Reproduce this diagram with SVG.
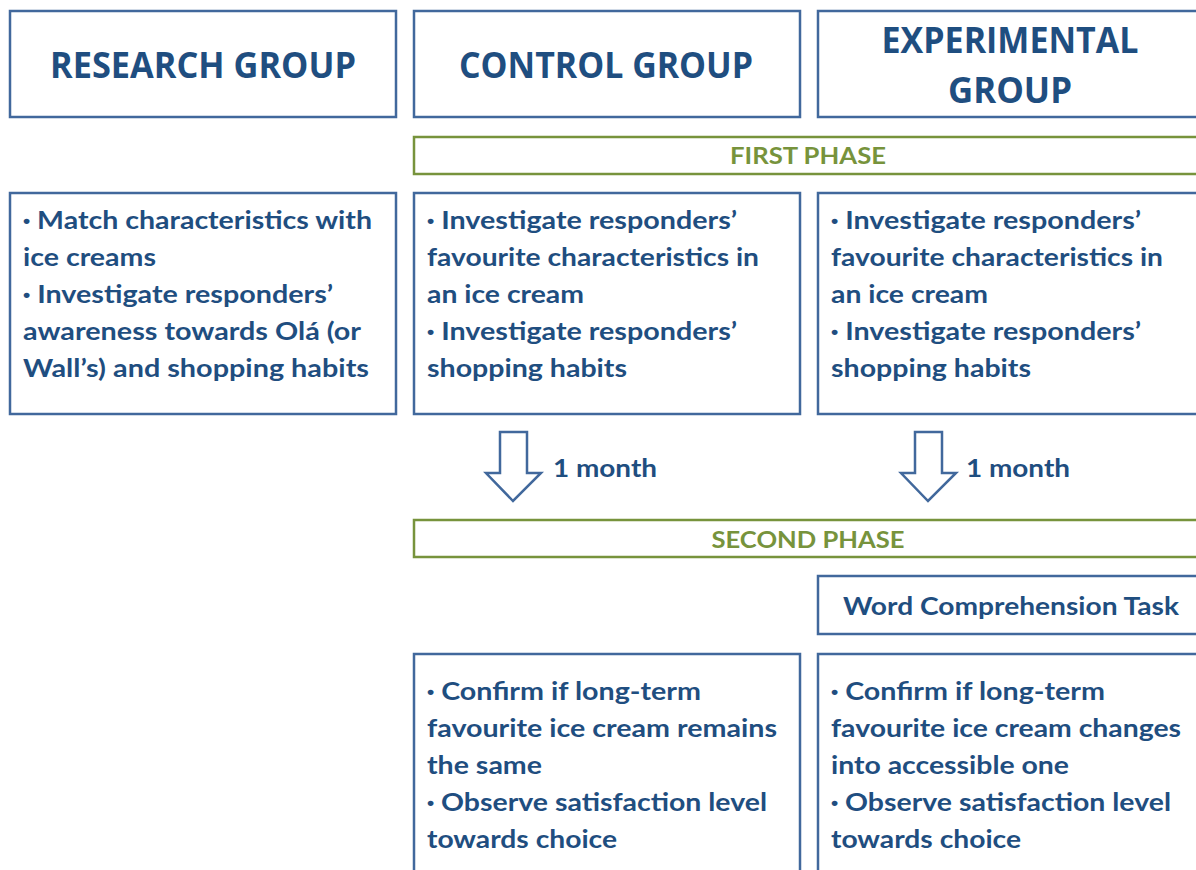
<svg xmlns="http://www.w3.org/2000/svg" width="1196" height="870" viewBox="0 0 1196 870">
  <style>
    .box { fill: #ffffff; stroke: #41689c; stroke-width: 2.5; }
    .phase { fill: #ffffff; stroke: #77933c; stroke-width: 2.5; }
    .arrow { fill: #ffffff; stroke: #41689c; stroke-width: 2.5; stroke-linejoin: miter; }
    .head { font-family: "Open Sans", "Liberation Sans", sans-serif; font-weight: 700; font-size: 36px; fill: #1f4e80; text-anchor: middle; }
    .body { font-family: Lato, "Open Sans", "Liberation Sans", sans-serif; font-weight: 700; font-size: 25px; fill: #1f4e80; }
    .bul { font-family: "Liberation Sans", sans-serif; font-size: 18px; baseline-shift: 2px; }
    .ph { font-family: Lato, "Liberation Sans", sans-serif; font-weight: 700; font-size: 23px; fill: #77933c; text-anchor: middle; }
  </style>

  <!-- column headers -->
  <g id="research-header">
    <rect class="box" x="10" y="11" width="386" height="106"/>
    <text class="head" x="203" y="78" textLength="306" lengthAdjust="spacingAndGlyphs">RESEARCH GROUP</text>
  </g>
  <g id="control-header">
    <rect class="box" x="414" y="11" width="386" height="106"/>
    <text class="head" x="606" y="78" textLength="294" lengthAdjust="spacingAndGlyphs">CONTROL GROUP</text>
  </g>
  <g id="experimental-header">
    <rect class="box" x="818" y="11" width="390" height="106"/>
    <text class="head" x="1010" y="53" textLength="257" lengthAdjust="spacingAndGlyphs">EXPERIMENTAL</text>
    <text class="head" x="1010" y="103" textLength="124" lengthAdjust="spacingAndGlyphs">GROUP</text>
  </g>

  <!-- phase bars -->
  <g id="first-phase">
    <rect class="phase" x="414" y="137" width="794" height="37"/>
    <text class="ph" x="808" y="164" textLength="156" lengthAdjust="spacingAndGlyphs">FIRST PHASE</text>
  </g>

  <!-- first phase tasks -->
  <g id="research-tasks">
    <rect class="box" x="10" y="193" width="386" height="221"/>
    <text class="body" x="23" y="229" textLength="349" lengthAdjust="spacingAndGlyphs"><tspan class="bul">•</tspan> Match characteristics with</text>
    <text class="body" x="23" y="266" textLength="133" lengthAdjust="spacingAndGlyphs">ice creams</text>
    <text class="body" x="23" y="303" textLength="310" lengthAdjust="spacingAndGlyphs"><tspan class="bul">•</tspan> Investigate responders’</text>
    <text class="body" x="23" y="340" textLength="338" lengthAdjust="spacingAndGlyphs">awareness towards Olá (or</text>
    <text class="body" x="23" y="377" textLength="346" lengthAdjust="spacingAndGlyphs">Wall’s) and shopping habits</text>
  </g>
  <g id="control-phase1">
    <rect class="box" x="414" y="193" width="386" height="221"/>
    <text class="body" x="427" y="229" textLength="310" lengthAdjust="spacingAndGlyphs"><tspan class="bul">•</tspan> Investigate responders’</text>
    <text class="body" x="427" y="266" textLength="332" lengthAdjust="spacingAndGlyphs">favourite characteristics in</text>
    <text class="body" x="427" y="303" textLength="157" lengthAdjust="spacingAndGlyphs">an ice cream</text>
    <text class="body" x="427" y="340" textLength="310" lengthAdjust="spacingAndGlyphs"><tspan class="bul">•</tspan> Investigate responders’</text>
    <text class="body" x="427" y="377" textLength="200" lengthAdjust="spacingAndGlyphs">shopping habits</text>
  </g>
  <g id="experimental-phase1">
    <rect class="box" x="818" y="193" width="390" height="221"/>
    <text class="body" x="831" y="229" textLength="310" lengthAdjust="spacingAndGlyphs"><tspan class="bul">•</tspan> Investigate responders’</text>
    <text class="body" x="831" y="266" textLength="332" lengthAdjust="spacingAndGlyphs">favourite characteristics in</text>
    <text class="body" x="831" y="303" textLength="157" lengthAdjust="spacingAndGlyphs">an ice cream</text>
    <text class="body" x="831" y="340" textLength="310" lengthAdjust="spacingAndGlyphs"><tspan class="bul">•</tspan> Investigate responders’</text>
    <text class="body" x="831" y="377" textLength="200" lengthAdjust="spacingAndGlyphs">shopping habits</text>
  </g>

  <!-- time gap arrows -->
  <g id="connectors">
    <polygon class="arrow" points="500,432 527,432 527,473 541,473 513,501 486,473 500,473"/>
    <text class="body" x="553" y="477" textLength="104" lengthAdjust="spacingAndGlyphs">1 month</text>
    <polygon class="arrow" points="915,432 942,432 942,473 956,473 928,501 901,473 915,473"/>
    <text class="body" x="966" y="477" textLength="104" lengthAdjust="spacingAndGlyphs">1 month</text>
  </g>

  <g id="second-phase">
    <rect class="phase" x="414" y="520" width="794" height="37"/>
    <text class="ph" x="808" y="548" textLength="193" lengthAdjust="spacingAndGlyphs">SECOND PHASE</text>
  </g>

  <g id="word-task">
    <rect class="box" x="818" y="576" width="390" height="58"/>
    <text class="body" x="843" y="615" textLength="336" lengthAdjust="spacingAndGlyphs">Word Comprehension Task</text>
  </g>

  <!-- second phase tasks -->
  <g id="control-phase2">
    <rect class="box" x="414" y="654" width="386" height="240"/>
    <text class="body" x="427" y="700" textLength="274" lengthAdjust="spacingAndGlyphs"><tspan class="bul">•</tspan> Confirm if long-term</text>
    <text class="body" x="427" y="737" textLength="350" lengthAdjust="spacingAndGlyphs">favourite ice cream remains</text>
    <text class="body" x="427" y="774" textLength="115" lengthAdjust="spacingAndGlyphs">the same</text>
    <text class="body" x="427" y="811" textLength="340" lengthAdjust="spacingAndGlyphs"><tspan class="bul">•</tspan> Observe satisfaction level</text>
    <text class="body" x="427" y="848" textLength="190" lengthAdjust="spacingAndGlyphs">towards choice</text>
  </g>
  <g id="experimental-phase2">
    <rect class="box" x="818" y="654" width="390" height="240"/>
    <text class="body" x="831" y="700" textLength="274" lengthAdjust="spacingAndGlyphs"><tspan class="bul">•</tspan> Confirm if long-term</text>
    <text class="body" x="831" y="737" textLength="350" lengthAdjust="spacingAndGlyphs">favourite ice cream changes</text>
    <text class="body" x="831" y="774" textLength="238" lengthAdjust="spacingAndGlyphs">into accessible one</text>
    <text class="body" x="831" y="811" textLength="340" lengthAdjust="spacingAndGlyphs"><tspan class="bul">•</tspan> Observe satisfaction level</text>
    <text class="body" x="831" y="848" textLength="190" lengthAdjust="spacingAndGlyphs">towards choice</text>
  </g>
</svg>
